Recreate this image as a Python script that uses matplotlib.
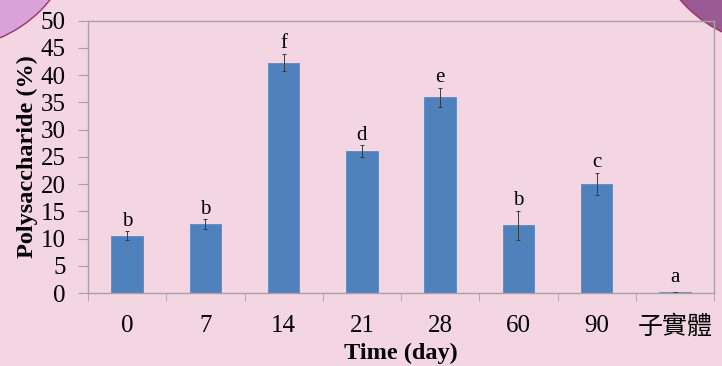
import numpy as np
import matplotlib.pyplot as plt
from matplotlib.patches import Circle

# data
days = ['0', '7', '14', '21', '28', '60', '90', '子實體']
poly = [10.5, 12.6, 42.3, 26.0, 35.9, 12.4, 20.0, 0.2]
err = [0.8, 0.9, 1.6, 1.1, 1.8, 2.7, 2.0, 0.0]
letters = ['b', 'b', 'f', 'd', 'e', 'b', 'c', 'a']

plt.rcParams['font.family'] = ['Liberation Serif', 'Noto Sans CJK TC']

W, H = 722, 366
fig = plt.figure(figsize=(W / 100, H / 100), dpi=100)
fig.patch.set_facecolor('#F3D6E1')

# slide decoration in the top corners
bg = fig.add_axes([0, 0, 1, 1], zorder=0)
bg.set_xlim(0, W)
bg.set_ylim(H, 0)
bg.axis('off')
bg.add_patch(Circle((-50, -80), 128, facecolor='#D9A3D9', edgecolor='#A0306A', lw=1))
bg.add_patch(Circle((776, -82), 126, facecolor='#9A5A94', edgecolor='#A0306A', lw=1))

ax = fig.add_axes([88 / W, 1 - 293 / H, 626 / W, 272.3 / H], zorder=1)
ax.set_facecolor('none')

x = np.arange(len(days))
ax.bar(x, poly, width=0.4, color='#4F81BD', edgecolor='#5A8AC6', lw=0.6, zorder=2)
ax.errorbar(x, poly, yerr=err, fmt='none', ecolor='#3A3A3A', elinewidth=0.7,
            capsize=1.5, capthick=0.7, zorder=3)

# significance letters sit just above the error bars
top = np.maximum(np.array(poly) + np.array(err), 1.0)
for xi, yi, t in zip(x, top, letters):
    ax.annotate(t, (xi, yi), xytext=(0, 0.5), textcoords='offset points',
                ha='center', va='bottom', fontsize=15)

ax.set_xlim(-0.5, len(days) - 0.5)
ax.set_ylim(0, 50)
ax.set_yticks(np.arange(0, 51, 5))
ax.set_xticks(x)
ax.set_xticklabels(days)
ax.set_xticks(np.arange(-0.5, len(days)), minor=True)
ax.tick_params(axis='x', which='major', length=0, pad=16, labelsize=18)
ax.tick_params(axis='x', which='minor', length=6, color='#A8A0A8')
ax.tick_params(axis='y', length=7, color='#A8A0A8', labelsize=18, pad=9)
for s in ax.spines.values():
    s.set_color('#A8A0A8')
    s.set_linewidth(1)

ax.set_ylabel('Polysaccharide (%)', fontsize=17.5, fontweight='bold', labelpad=2)
ax.set_xlabel('Time (day)', fontsize=17.5, fontweight='bold', labelpad=3)

fig.savefig('out.png', dpi=100, facecolor=fig.get_facecolor())
